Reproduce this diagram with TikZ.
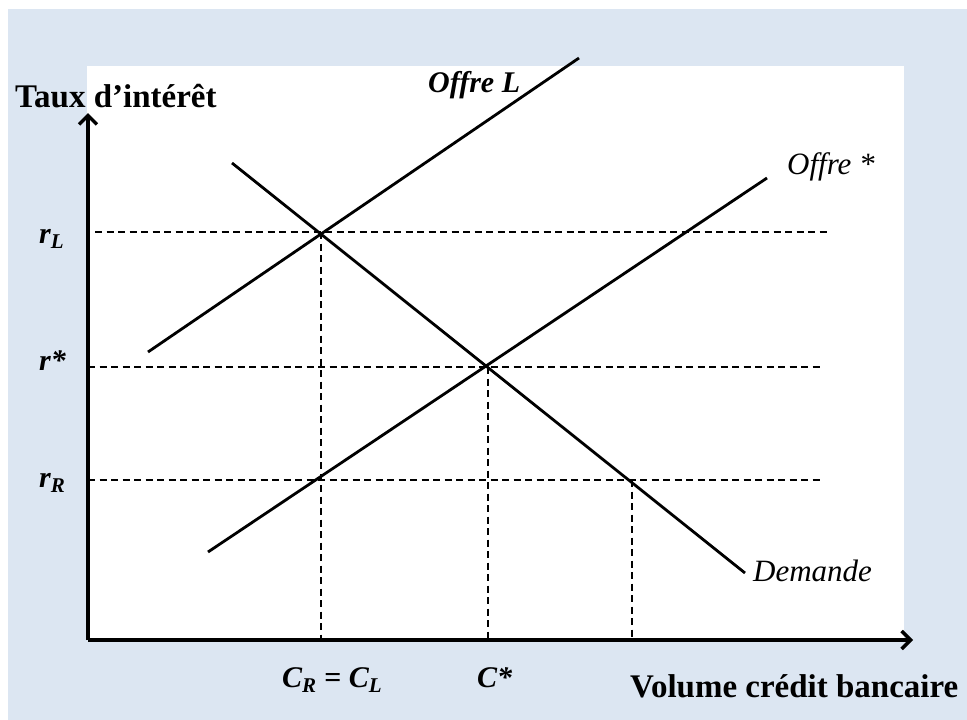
\documentclass[tikz,border=0pt]{standalone}
\usepackage{fontspec}
\setmainfont{Liberation Serif}
\usetikzlibrary{arrows.meta}
\definecolor{bgblue}{HTML}{DCE6F2}
\begin{document}
\begin{tikzpicture}[x=1pt,y=-1pt,
  axis/.style={line width=3.4pt,-{Straight Barb[length=9pt,width=18pt,line width=3.4pt]}},
  curve/.style={line width=2.8pt},
  guide/.style={line width=2pt,dash pattern=on 7pt off 4.5pt},
  boldlab/.style={font=\fontsize{33}{38}\selectfont\bfseries, inner sep=0pt, anchor=base west},
  bilab/.style={font=\fontsize{30}{36}\selectfont\bfseries\itshape, inner sep=0pt, anchor=base west},
  itlab/.style={font=\fontsize{31}{36}\selectfont\itshape, inner sep=0pt, anchor=base west},
]
\useasboundingbox (0,0) rectangle (967,720);
\fill[white] (0,0) rectangle (967,720);
\fill[bgblue] (8,9) rectangle (967,720);
\fill[white] (87,66) rectangle (904,640);

% key points
\coordinate (O) at (88,640);
\coordinate (ytip) at (88,113);
\coordinate (xtip) at (913,640);
\coordinate (A) at (321,232);
\coordinate (E) at (488,367);
\coordinate (B) at (321,480);
\coordinate (D) at (632,480);
\coordinate (A0) at (321,640);
\coordinate (E0) at (488,640);
\coordinate (D0) at (632,640);
\coordinate (rLs) at (95,232);
\coordinate (rLe) at (830,232);
\coordinate (rSs) at (88,367);
\coordinate (rSe) at (820,367);
\coordinate (rRs) at (88,480);
\coordinate (rRe) at (820,480);
\coordinate (L1) at (148,352);
\coordinate (L2) at (579,58);
\coordinate (S1) at (208,552);
\coordinate (S2) at (767,178);
\coordinate (D1) at (232,163);
\coordinate (D2) at (745,573);

% guides
\draw[guide] (rLs) -- (rLe);
\draw[guide] (rSs) -- (rSe);
\draw[guide] (rRs) -- (rRe);
\draw[guide] (A) -- (A0);
\draw[guide] (E) -- (E0);
\draw[guide] (D) -- (D0);

% curves
\draw[curve] (L1) -- (L2);
\draw[curve] (S1) -- (S2);
\draw[curve] (D1) -- (D2);

% axes
\draw[axis] (O) -- (ytip);
\draw[axis] (O) -- (xtip);

% labels
\node[boldlab] (ylab) at (15,107) {Taux d’intérêt};
\node[boldlab] (xlab) at (630,697) {Volume crédit bancaire};
\node[bilab] (offL) at (428,92) {Offre L};
\node[itlab] (offS) at (787,174) {Offre *};
\node[itlab] (dem) at (753,581) {Demande};
\node[bilab] (rL) at (39,243) {r\textsubscript{L}};
\node[bilab] (rS) at (39,370) {r*};
\node[bilab] (rR) at (39,487) {r\textsubscript{R}};
\node[bilab] (CRL) at (282,687) {C\textsubscript{R} = C\textsubscript{L}};
\node[bilab] (CS) at (477,687) {C*};
\end{tikzpicture}
\end{document}
